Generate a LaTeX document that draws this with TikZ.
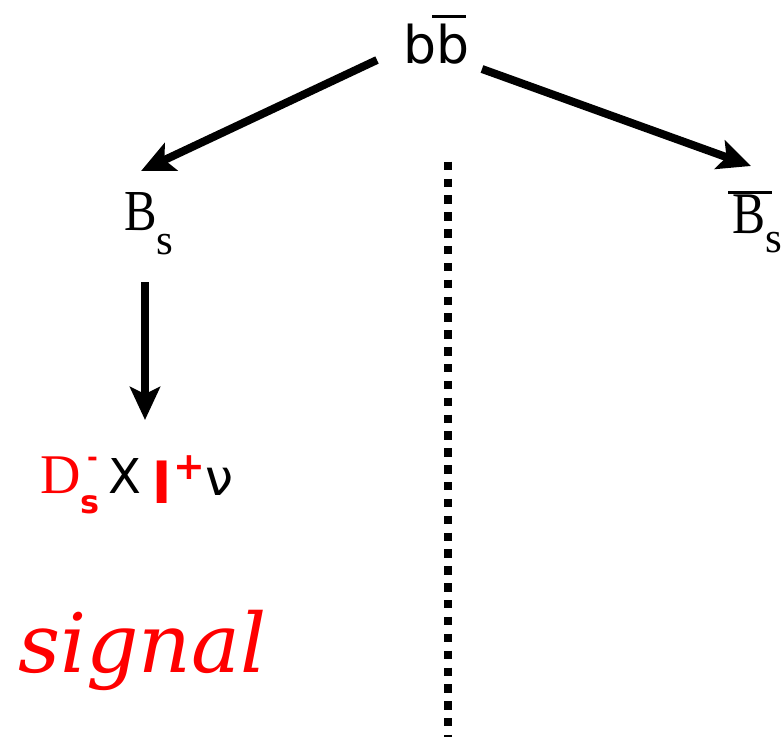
\documentclass[tikz,border=0pt]{standalone}
\usepackage{fontspec}
\usepackage{graphicx}
\usetikzlibrary{arrows.meta}
\newfontfamily\djs{DejaVu Sans}
\newfontfamily\lser{Liberation Serif}
\newfontfamily\djser{DejaVu Serif}
\definecolor{sigred}{RGB}{255,0,0}
\newcommand\fsz[1]{\fontsize{#1}{#1}\selectfont}
\begin{document}
\begin{tikzpicture}[x=1pt,y=-1pt,
  lbl/.style={inner sep=0pt, outer sep=0pt, anchor=base west},
  arr/.style={line width=8pt, -{Stealth[length=33pt,width=30pt,inset=7pt]}},
  dotline/.style={line width=8pt, dash pattern=on 8.4pt off 8.46pt}]
\useasboundingbox (0,0) rectangle (784,736);
% b bbar
\node[lbl] (bb) at (403,63) {\djs\fsz{52}b\rlap{\kern-4pt\rule[45.5pt]{34pt}{2.5pt}}b};
% B_s
\node[lbl] (bs) at (124,230) {\lser\fsz{58}\scalebox{0.84}[1]{B}\raisebox{-24pt}{\fsz{43}s}};
% Bbar_s
\node[lbl] (bsbar) at (732,233) {\lser\fsz{59}\rlap{\kern-4pt\rule[39pt]{44pt}{3pt}}\scalebox{0.84}[1]{B}\raisebox{-19pt}{\fsz{43}s}};
% decay products
\node[lbl, text=sigred] (ds) at (40,493) {\lser\fsz{56}D};
\node[lbl, text=sigred] (dsm) at (87,466) {\djs\bfseries\fsz{26}-};
\node[lbl, text=sigred] (dss) at (80,513) {\djs\bfseries\fsz{32}s};
\node[lbl] (xx) at (108,493) {\djs\fsz{48}X};
\node[lbl, text=sigred] (ll) at (152,503) {\djs\bfseries\fsz{56}l};
\node[lbl, text=sigred] (pl) at (173,479) {\djs\bfseries\fsz{38}+};
\node[lbl] (nu) at (205,495) {\djs\fsz{50}ν};
% signal
\node[lbl, text=sigred] (sig) at (18,672) {\djser\itshape\fsz{82}signal};
% arrow end points
\coordinate (a1s) at (377,60);
\coordinate (a1e) at (141,171);
\coordinate (a2s) at (482,69);
\coordinate (a2e) at (751,166);
\coordinate (a3s) at (145,282);
\coordinate (a3e) at (145,420);
\coordinate (dtop) at (448,161.7);
\coordinate (dbot) at (448,745);
\draw[arr] (a1s) -- (a1e);
\draw[arr] (a2s) -- (a2e);
\draw[arr] (a3s) -- (a3e);
\draw[dotline] (dtop) -- (dbot);
\end{tikzpicture}
\end{document}
